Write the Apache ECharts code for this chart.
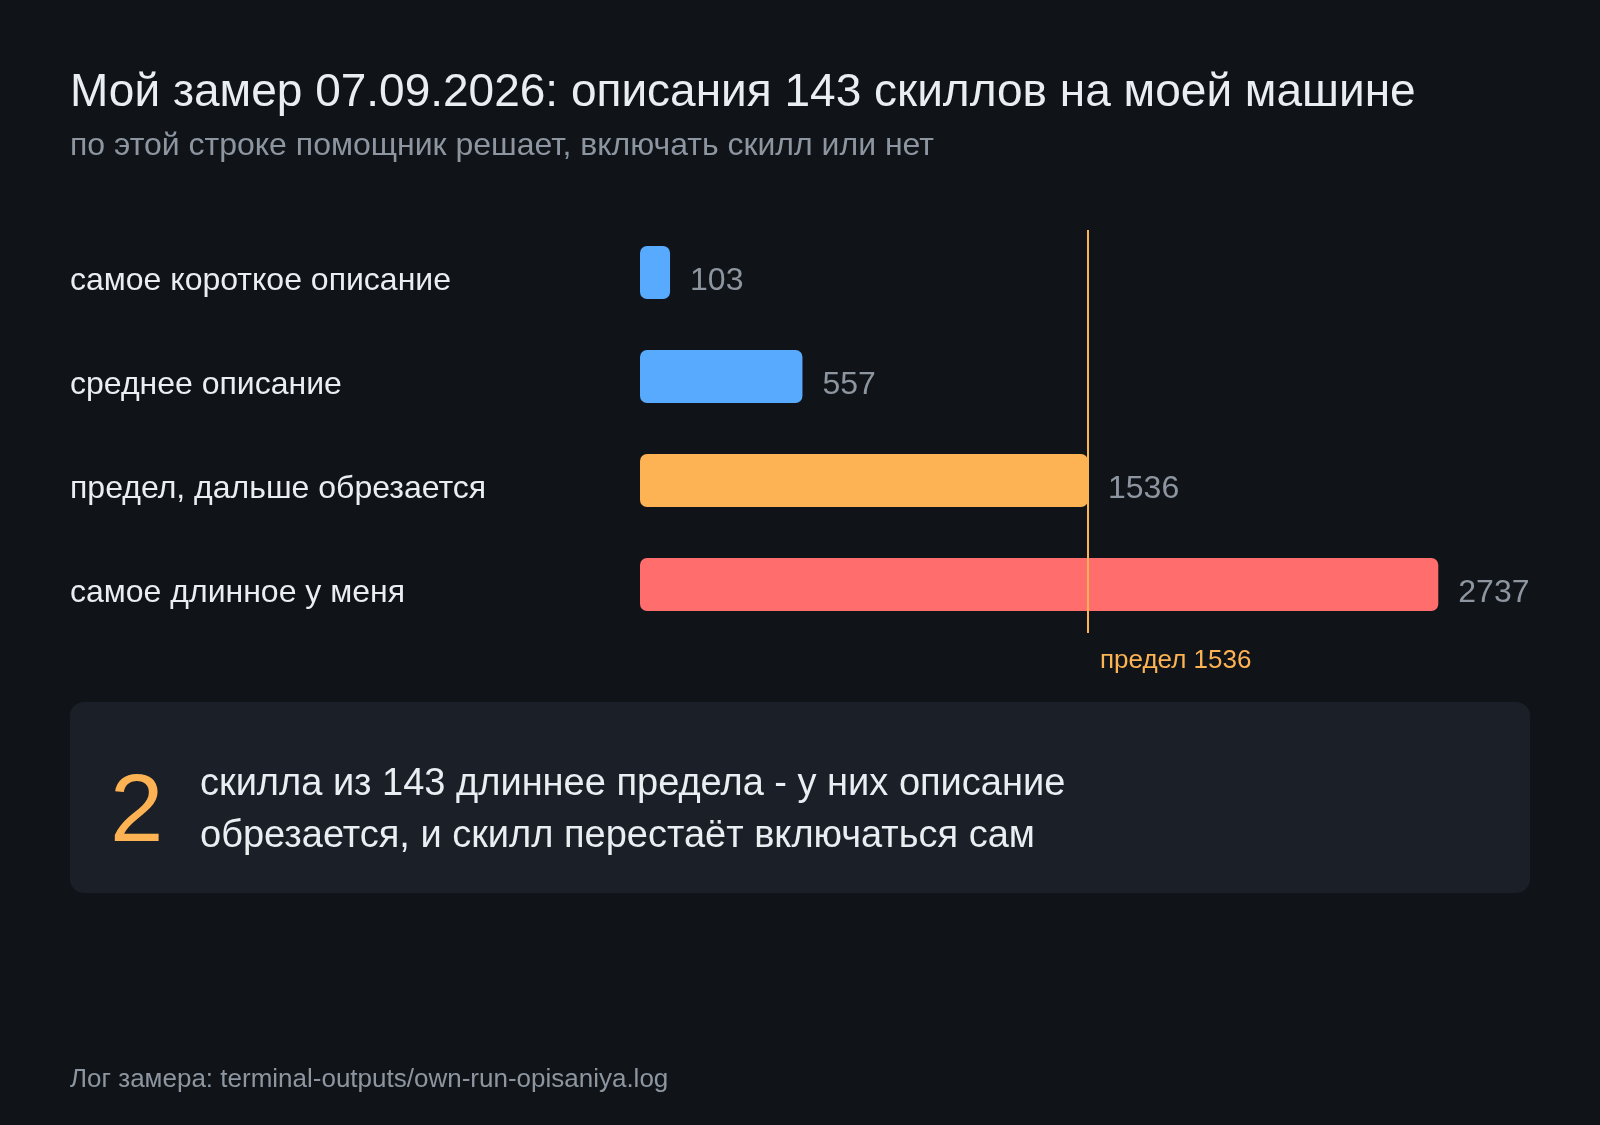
<!DOCTYPE html>
<html>
<head>
<meta charset="utf-8">
<script src="https://cdn.jsdelivr.net/npm/echarts@6/dist/echarts.min.js"></script>
<style>
html,body{margin:0;padding:0;background:#101418;}
#chart{width:1600px;height:1125px;}
</style>
</head>
<body>
<div id="chart"></div>
<script>
const titleText = 'Мой замер 07.09.2026: описания 143 скиллов на моей машине';
const subtitleText = 'по этой строке помощник решает, включать скилл или нет';
const categories = ['самое короткое описание', 'среднее описание', 'предел, дальше обрезается', 'самое длинное у меня'];
const lengths = [103, 557, 1536, 2737];
const limit = 1536;
const limitLabel = 'предел 1536';
const overCount = 2;
const totalSkills = 143;
const noteLines = ['скилла из 143 длиннее предела - у них описание', 'обрезается, и скилл перестаёт включаться сам'];
const footerText = 'Лог замера: terminal-outputs/own-run-opisaniya.log';

const FONT = '"Liberation Sans", Arial, sans-serif';
const C = {bg:'#101418', box:'#1b2028', text:'#e9eef3', muted:'#8d96a0', blue:'#58aaff', orange:'#fdb254', red:'#ff6d6d'};

const chart = echarts.init(document.getElementById('chart'));
chart.setOption({
  backgroundColor: C.bg,
  animation: false,
  textStyle: {fontFamily: FONT},
  title: {
    text: titleText,
    subtext: subtitleText,
    left: 70, top: 70,
    padding: 0,
    itemGap: 14,
    textStyle: {color: C.text, fontSize: 46, fontWeight: 'normal', fontFamily: FONT},
    subtextStyle: {color: C.muted, fontSize: 32, fontFamily: FONT}
  },
  grid: {left: 640, right: 85, top: 220.5, height: 416},
  xAxis: {type: 'value', min: 0, max: 3000, show: false},
  yAxis: {
    type: 'category', data: categories, inverse: true,
    axisLine: {show: false}, axisTick: {show: false}, splitLine: {show: false},
    axisLabel: {
      align: 'left', verticalAlign: 'top', margin: 570, color: C.text, fontSize: 32, fontFamily: FONT,
      formatter: v => '{c|' + v + '}',
      rich: {c: {color: C.text, fontSize: 32, fontFamily: FONT, lineHeight: 17}}
    }
  },
  series: [{
    type: 'bar',
    data: lengths,
    barWidth: 53,
    itemStyle: {
      borderRadius: 7,
      color: p => p.value < limit ? C.blue : (p.value === limit ? C.orange : C.red)
    },
    label: {show: true, position: 'right', distance: 20, color: C.muted, fontSize: 32, fontFamily: FONT, offset: [0, 9]},
    markLine: {
      silent: true, symbol: ['none', 'none'],
      lineStyle: {color: C.orange, width: 2, type: 'solid'},
      label: {show: true, position: 'end', formatter: limitLabel, color: C.orange, fontSize: 26, fontFamily: FONT, align: 'left', padding: [0, 0, 0, 12], distance: 15},
      data: [[{coord: [limit, 0], y: 230}, {coord: [limit, 3], y: 633}]]
    }
  }],
  graphic: [
    {type: 'rect', left: 70, top: 702, shape: {width: 1460, height: 191, r: 14}, style: {fill: C.box}, z: -1},
    {type: 'text', left: 110, top: 767, style: {text: String(overCount), fill: C.orange, font: '96px ' + FONT}},
    {type: 'text', left: 200, top: 759, style: {text: noteLines.join('\n'), fill: C.text, font: '38px ' + FONT, lineHeight: 52}},
    {type: 'text', left: 70, top: 1067, style: {text: footerText, fill: C.muted, font: '26px ' + FONT}}
  ]
});
</script>
</body>
</html>
